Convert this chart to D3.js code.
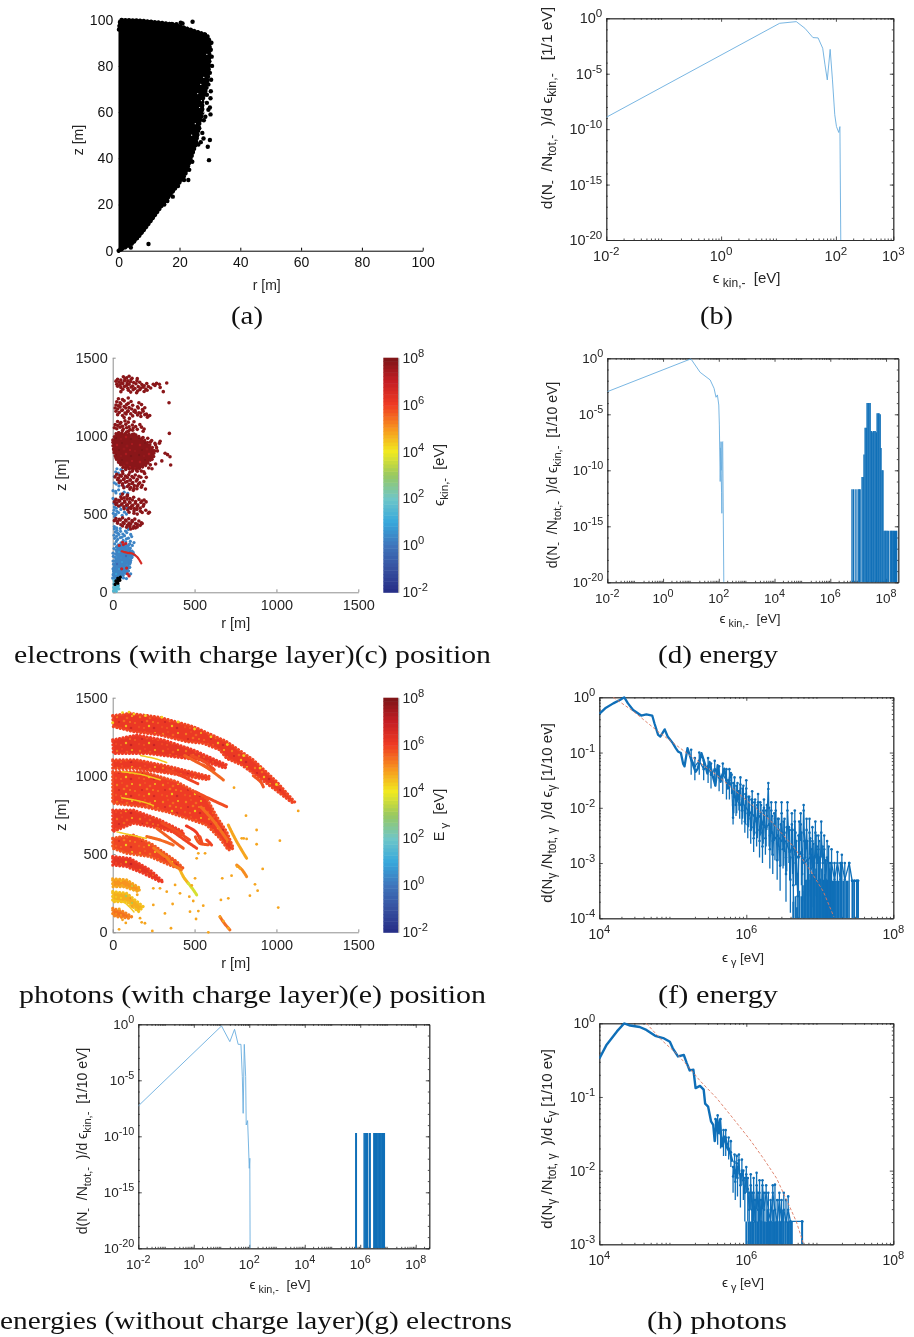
<!DOCTYPE html>
<html>
<head>
<meta charset="utf-8">
<script src="https://cdn.jsdelivr.net/npm/d3@7"></script>
<style>
  html, body { margin: 0; padding: 0; background: #fff; }
  svg { display: block; filter: blur(0.3px); }
  text { font-family: "Liberation Sans", Arial, sans-serif; white-space: pre; }
  .cap { font-family: "Liberation Serif", serif; fill: #111; font-size: 26px; }
</style>
</head>
<body>
<div id="results"></div>
<script>
// --- (a) positions, dense black region outline + points sticking out of it
var aOutline = [[0,0],[4.3,3],[7,6.8],[10.3,12.5],[14.7,20.5],[18,26],[21.8,32.8],[23.5,39],[25.4,46.5],[26.5,55],[27.5,59.5],[27.5,65],[29,71],[29.6,78],[30,90.5],[29,93.4],[24.6,95.2],[19,97.7],[13.6,98.7],[7,99.6],[0.5,99.9],[0,95]];
var aDots = [[24.3,99.1],[20.4,98.7],[21,98.4],[19,98],[17.5,98.2],[9.8,2.9],[4,1.4],[29.7,39.2],[29.3,45],[30,47.9],[27.9,48.6],[26.2,46],[25,45.7],[24.3,44],[27,47],[22.9,30.6],[21.5,30.6],[17.8,23.4],[23.2,35],[22,37],[24.2,38.5],[19.5,28],[15,20],[16,21.5],[6,5.5],[5,4],[30.2,59],[29.5,61],[28.5,58],[28,56.5],[30,62],[26.5,53],[27.5,51],[25.8,50],[29,64],[30.2,66],[29,67.5],[30.3,69],[28,70],[29.5,72],[30.4,74],[30,77],[30.7,80],[29.8,82],[30.6,84],[30.3,87],[30.5,90],[29,92.5],[28,93]];
var aHoles = [[26,68],[27.2,65],[28,60],[26.6,62],[25.2,55],[29,85],[28,75],[24,50],[27,72]];

// --- colour map of the colour bars (exponent of the energy -> colour)
var cmapExp = [-2,-1,0,1,2,3,4,5,6,7,8];
var cmapCol = ["#262d86","#36509f","#3f74bb","#37a8dc","#6fc6c8","#98c860","#f1ea1e","#f7941e","#ef3b24","#c41e24","#7b1416"];
var barTicks = [-2,0,2,4,6,8];

// --- (c) electrons, points are [r, z]
var cRedE = 7.8, cBlueE = 0.3, cCyanE = 1.5;
var cRedBlob = [[0,974],[24,1023],[147,1006],[208,963],[248,921],[244,867],[208,814],[147,782],[65,793],[24,846],[8,889],[0,942]];
var cBlueBlob = [[0,90],[24,303],[96,303],[126,249],[106,196],[96,132],[24,79]];
var cCyanBlob = [[5,8],[8,75],[30,60],[40,25],[20,5]];
var cBlackBlob = [[14,50],[22,82],[45,100],[50,85],[30,55]];
var cRed = [
 [65,1378],[85,1372],[100,1381],[118,1368],[30,1362],[50,1357],[75,1365],[92,1352],[112,1360],[150,1366],[20,1350],[38,1344],[55,1340],[72,1353],[88,1338],[108,1346],[128,1341],[148,1352],[165,1343],[25,1331],[45,1326],[62,1334],[85,1322],[100,1330],[122,1318],[142,1333],[178,1329],[192,1320],[208,1335],[248,1330],[268,1336],[330,1338],[30,1318],[50,1310],[72,1316],[92,1305],[112,1312],[136,1303],[156,1315],[172,1306],[186,1312],[202,1300],[218,1316],[258,1322],[62,1298],[96,1292],[126,1296],[152,1287],[166,1296],[192,1284],[210,1292],[232,1306],[50,1283],[110,1280],[146,1276],[309,1283],[290,1310],[285,1330],
 [35,1238],[60,1232],[95,1242],[25,1218],[45,1212],[70,1224],[95,1208],[112,1220],[160,1212],[344,1212],[20,1198],[35,1192],[50,1204],[70,1188],[85,1200],[100,1182],[122,1196],[152,1186],[176,1200],[15,1178],[30,1172],[45,1184],[60,1166],[80,1178],[95,1160],[116,1172],[136,1164],[156,1178],[182,1168],[196,1180],[20,1158],[40,1150],[55,1162],[75,1146],[90,1156],[110,1142],[130,1156],[160,1148],[186,1158],[206,1140],[30,1136],[60,1130],[82,1140],[122,1128],[152,1134],[172,1124],[196,1136],[216,1126],[70,1118],[102,1112],[212,1120],[226,1130],[140,1150],[170,1145],
 [30,1092],[50,1086],[75,1096],[95,1088],[130,1090],[15,1072],[30,1066],[45,1078],[60,1062],[80,1074],[100,1058],[120,1070],[140,1060],[166,1072],[10,1052],[25,1046],[45,1056],[65,1044],[85,1052],[105,1040],[125,1050],[150,1042],[176,1056],[192,1044],[60,1034],[95,1030],[122,1036],[186,1030],
 [40,1018],[85,1025],[130,1012],[185,990],[346,1016],[214,985],[238,970],[230,960],[258,952],[285,953],[290,965],[262,942],[268,925],[256,905],[273,904],[252,890],[320,889],[250,868],[350,867],[335,880],[240,850],[300,840],[230,815],[354,814],[262,820],[220,795],[240,790],[175,775],[120,775],[80,785],[40,830],[20,860],[10,905],[5,960],
 [60,772],[105,768],[150,774],[190,770],[195,760],[25,755],[45,748],[62,758],[78,744],[98,752],[118,740],[138,750],[160,742],[205,735],[15,738],[35,730],[52,742],[70,726],[90,734],[108,720],[128,732],[150,722],[172,736],[30,720],[48,712],[66,722],[88,708],[106,716],[122,702],[144,712],[165,700],[190,708],[40,702],[60,694],[78,704],[100,690],[118,696],[132,682],[158,692],[180,684],[60,685],[90,676],[110,670],[130,664],[150,680],[175,672],[68,668],[105,660],[126,652],[148,662],[200,660],
 [60,628],[90,622],[50,610],[70,604],[88,614],[105,600],[128,608],[20,594],[38,588],[55,598],[72,584],[88,596],[102,578],[120,590],[140,580],[160,594],[178,584],[192,590],[10,578],[26,572],[42,582],[58,566],[74,576],[90,560],[106,572],[122,556],[138,570],[154,558],[172,574],[190,562],[204,578],[20,562],[36,552],[52,560],[68,546],[84,556],[100,540],[116,550],[132,536],[150,548],[168,538],[186,550],[70,534],[92,526],[112,536],[130,520],[148,530],[170,518],[224,512],[100,512],[130,505],[150,500],[202,525],[218,506],[180,510],
 [20,472],[40,466],[60,476],[78,462],[98,470],[118,458],[135,468],[10,458],[28,452],[46,462],[64,446],[82,456],[100,442],[120,452],[140,440],[160,456],[175,444],[30,442],[50,432],[70,440],[90,428],[110,436],[130,422],[150,434],[168,428],[180,440],[60,424],[85,416],[105,420],[125,410],[150,418],[110,405],[140,412]
];
var cBlue = [[26,790],[50,784],[18,770],[34,762],[62,775],[10,740],[10,700],[22,692],[38,680],[70,675],[2,650],[18,645],[36,655],[70,640],[20,635],[48,628],[92,632],[2,600],[12,590],[8,570],[10,545],[22,538],[44,550],[86,542],[140,532],[8,525],[26,518],[50,530],[72,512],[4,505],[20,498],[36,510],[58,492],[84,500],[12,485],[10,420],[24,412],[10,405],[26,396],[46,408],[78,392],[96,402],[16,385],[30,378],[48,390],[62,372],[86,382],[110,370],[8,365],[24,358],[38,370],[56,352],[72,362],[96,346],[116,356],[12,345],[30,338],[46,350],[64,332],[84,342],[108,326],[22,325],[50,316],[80,322],[104,310],[130,318],[12,310],[40,302],[70,296],[120,300],[2,250],[2,200],[110,205],[2,150],[110,118],[100,110],[66,92],[84,88],[125,255],[130,240],[118,225],[108,190],[104,160],[15,100],[8,130],[5,180],[4,230],[8,280]];
var cRedStreak = [[55,262],[90,252],[120,248],[150,225],[175,185]];
var cRedExtra = [[85,155],[90,118],[55,150],[65,305],[40,300],[80,312],[60,320],[100,105]];

// --- (e) photons. bands are outlines of the dense arcs, e = exponent of energy
var eBands = [
 {e:6.1, pts:[[0,1385],[106,1400],[289,1374],[492,1315],[696,1219],[859,1102],[1001,963],[1113,831],[1093,831],[981,921],[859,1016],[788,1070],[696,1112],[655,1166],[553,1208],[452,1219],[289,1261],[126,1283],[4,1315]]},
 {e:6.2, pts:[[0,1230],[147,1261],[309,1230],[492,1166],[696,1070],[686,1050],[533,1102],[370,1123],[208,1144],[4,1144]]},
 {e:6.1, pts:[[0,1102],[147,1102],[350,1059],[594,995],[584,975],[350,1016],[126,1048],[0,1048]]},
 {e:6.0, pts:[[0,1027],[187,1027],[391,963],[574,857],[635,740],[696,643],[737,537],[706,526],[655,601],[574,686],[452,729],[330,771],[187,803],[0,825]]},
 {e:6.15, pts:[[0,782],[126,782],[289,718],[431,643],[431,622],[289,665],[126,697],[0,643]]},
 {e:5.9, pts:[[0,601],[126,622],[248,558],[391,452],[431,409],[370,420],[228,484],[85,505],[0,537]]},
 {e:6.25, pts:[[0,484],[106,473],[228,399],[309,324],[289,324],[187,377],[85,420],[0,430]]},
 {e:5.0, pts:[[0,341],[85,335],[167,281],[157,260],[65,292],[0,292]]},
 {e:4.7, pts:[[0,260],[85,249],[187,164],[157,132],[85,196],[0,196]]},
 {e:5.4, pts:[[0,153],[65,132],[116,100],[96,90],[24,100],[0,111]]}
];
var eFingers = [
 {e:6.0, pts:[[503,899],[580,860],[696,803]]},
 {e:5.7, pts:[[553,1070],[620,1020],[676,974]]},
 {e:5.8, pts:[[440,1130],[520,1085],[600,1040]]},
 {e:5.9, pts:[[859,1000],[905,960],[920,930]]},
 {e:6.2, pts:[[450,680],[510,640],[540,575]]},
 {e:5.6, pts:[[540,800],[610,720],[700,590]]},
 {e:5.0, pts:[[706,686],[752,590],[818,473]]},
 {e:5.3, pts:[[757,430],[790,400],[818,356]]},
 {e:4.8, pts:[[411,399],[435,350],[462,313]]},
 {e:3.9, pts:[[462,313],[490,275],[513,239]]},
 {e:5.6, pts:[[655,100],[680,60],[716,15]]},
 {e:5.9, pts:[[505,610],[530,570],[585,560]]},
 {e:5.5, pts:[[330,480],[370,430],[420,400]]},
 {e:6.0, pts:[[300,700],[400,640],[470,590]]},
 {e:5.8, pts:[[269,665],[350,600],[431,537]]},
 {e:6.1, pts:[[370,643],[440,590],[513,537]]},
 {e:6.0, pts:[[533,610],[540,590],[545,570]]},
 {e:6.1, pts:[[574,590],[590,575],[604,558]]},
 {e:5.7, pts:[[208,612],[290,590],[370,558]]},
 {e:5.5, pts:[[250,540],[300,500],[340,470]]},
 {e:6.1, pts:[[330,1040],[420,1000],[520,950]]},
 {e:6.0, pts:[[480,1130],[560,1090],[620,1040]]}
];
var eYellowRidges = [
 [[55,1027],[170,1010],[290,975]],
 [[55,860],[180,835],[250,810]],
 [[25,642],[120,620],[205,600]],
 [[170,1130],[260,1110],[330,1085]],
 [[0,205],[70,190],[130,130]]
];
var eSparse = [[1133,776],[1021,586],[879,654],[879,563],[814,746],[741,925],[916,405],[1011,158],[869,307],[885,266],[838,234],[661,207],[706,217],[669,345],[726,362],[777,409],[584,0],[509,85],[411,249],[366,181],[319,121],[248,175],[248,281],[197,58],[167,90],[177,64],[39,19],[242,9],[356,26],[472,132],[523,136],[553,170],[492,200],[468,228],[503,345],[483,300],[513,473],[564,505],[523,505],[381,303],[330,260],[289,281],[655,100],[676,72],[706,26],[818,597],[788,601],[760,420],[800,600],[150,240],[118,165],[60,80],[80,60],[40,150]];
var eYellow = [[60,1405],[100,1408],[130,1395],[200,1385],[300,1375],[400,1345],[500,1300],[600,1250],[700,1200],[800,1130],[900,1050],[1000,945],[0,1340]];

// --- energy spectra, all numbers below are log10 values
var bLogE = [-2,1.02,1.31,1.46,1.60,1.69,1.77,1.81,1.85,1.90,1.94,1.98,2.01,2.05,2.07,2.085];
var bLogN = [-8.93,-0.45,-0.3,-0.9,-1.74,-1.77,-2.7,-4.2,-5.56,-2.8,-5.56,-8.7,-9.77,-10.3,-9.77,-20];

var dLogE = [-2,1.0,1.33,1.69,1.83,1.90,1.95,2.0,2.02,2.05,2.08,2.09,2.06,2.10,2.11,2.12,2.14,2.18];
var dLogN = [-2.98,-0.05,-1.25,-1.93,-2.68,-3.48,-3.27,-4.17,-5.95,-11,-7.44,-10,-8,-12,-13.84,-7.5,-7.44,-20];
var dBarE = [6.78,6.84,6.92,7.0,7.04,7.07,7.14,7.18,7.21,7.25,7.29,7.32,7.36,7.39,7.43,7.47,7.5,7.54,7.57,7.61,7.65,7.68,7.72,7.75,7.79,7.82,7.86,7.89,7.93,7.97,8.0,8.04,8.08,8.15,8.19,8.22,8.26,8.3,8.34,8.38];
var dBarN = [-11.7,-11.7,-11.7,-11.7,-11.7,-11.7,-10.6,-10.6,-8.6,-6.2,-6.2,-4,-4,-4,-4,-6.5,-6.6,-6.5,-6.5,-6.5,-6.6,-4.9,-4.9,-4.9,-5,-8,-10,-10,-15.4,-15.4,-15.4,-15.4,-15.4,-15.4,-15.4,-15.4,-15.4,-15.4,-15.4,-15.4];

var gLogE = [-2,1.0,1.30,1.47,1.60,1.70,1.75,1.78,1.82,1.87,1.89,1.94,1.97,2.0,2.02,2.03];
var gLogN = [-7.29,-0.15,-1.55,-0.45,-1.79,-1.79,-4.67,-7.95,-1.79,-4.67,-8.99,-8.6,-10.6,-12.86,-11.96,-20];
var gBarE = [5.84,5.86,6.14,6.17,6.2,6.23,6.26,6.33,6.36,6.49,6.52,6.55,6.58,6.61,6.64,6.67,6.7,6.72,6.75,6.78,6.81,6.84,6.87];
var gBarTop = -9.7;

// thick low energy part of (f)
var fLogE = [4,4.08,4.19,4.28,4.34,4.39,4.46,4.57,4.64,4.72,4.75,4.80,4.83,4.89,4.93,5.0,5.04,5.07,5.11,5.14,5.16,5.2,5.25,5.31,5.34,5.39,5.44,5.47,5.5,5.54,5.58,5.61,5.65,5.7,5.75,5.79];
var fLogN = [-0.3,-0.2,-0.11,-0.05,0,-0.11,-0.23,-0.33,-0.31,-0.33,-0.47,-0.68,-0.71,-0.58,-0.71,-0.83,-0.92,-0.98,-1.01,-1.2,-1.25,-0.92,-1.13,-1.35,-1.29,-1.01,-1.22,-1.38,-1.17,-1.41,-1.6,-1.23,-1.53,-1.29,-1.65,-1.35];
// noisy part of (f): energy, value, lower end, upper end of the error bar
var fNoise = [
 [5.80,-1.55,-1.75,-1.4],[5.82,-2.18,-2.3,-1.95],[5.84,-1.6,-1.75,-1.45],[5.86,-1.95,-2.15,-1.8],[5.88,-1.7,-1.85,-1.55],[5.90,-1.85,-2.05,-1.7],[5.92,-1.58,-1.75,-1.45],[5.94,-2.05,-2.3,-1.9],
 [5.96,-1.75,-1.95,-1.6],[5.98,-2.25,-2.45,-2.05],[6.00,-1.65,-1.85,-1.5],[6.02,-2.3,-2.55,-2.1],[6.04,-1.95,-2.15,-1.8],[6.06,-2.4,-2.65,-2.2],[6.08,-1.85,-2.05,-1.7],[6.10,-2.55,-2.8,-2.35],
 [6.12,-2.0,-2.2,-1.85],[6.14,-2.45,-2.7,-2.25],[6.16,-1.9,-2.15,-1.75],[6.18,-2.6,-2.9,-2.4],[6.20,-2.1,-2.35,-1.95],[6.22,-2.7,-3.0,-2.45],[6.24,-2.0,-2.25,-1.85],[6.26,-2.55,-2.85,-2.35],
 [6.28,-2.15,-2.4,-1.95],[6.30,-1.66,-1.85,-1.55],[6.32,-2.75,-3.1,-2.5],[6.34,-2.05,-2.3,-1.9],[6.36,-2.85,-3.2,-2.6],[6.38,-2.3,-2.6,-2.1],[6.40,-2.05,-2.3,-1.9],[6.42,-2.95,-3.3,-2.65],
 [6.44,-2.4,-2.7,-2.2],[6.46,-3.05,-3.5,-2.75],[6.48,-2.1,-2.4,-1.9],[6.50,-2.75,-3.1,-2.5],[6.52,-2.45,-2.8,-2.2],[6.54,-3.2,-3.7,-2.9],[6.56,-2.05,-2.3,-1.9],[6.58,-2.6,-3.0,-2.35],
 [6.60,-3.3,-3.9,-2.9],[6.62,-2.3,-2.6,-2.1],[6.64,-3.4,-4,-3.0],[6.66,-2.25,-2.6,-2.05],[6.68,-2.9,-3.4,-2.6],[6.70,-3.6,-4,-3.2],[6.72,-2.5,-2.9,-2.25],[6.74,-2.3,-2.6,-2.1],
 [6.76,-3.2,-4,-2.85],[6.78,-2.05,-2.3,-1.95],[6.80,-2.9,-3.4,-2.6],[6.82,-2.4,-2.75,-2.2],[6.84,-3.5,-4,-3.0],[6.86,-2.45,-2.85,-2.2],[6.88,-3.1,-4,-2.75],[6.90,-2.6,-3.1,-2.35],
 [6.92,-3.3,-4,-2.9],[6.94,-2.45,-2.9,-2.25],[6.96,-3.0,-3.6,-2.7],[6.98,-2.75,-3.3,-2.5],[7.0,-3.3,-4,-2.9],[7.02,-2.45,-2.9,-2.25],[7.04,-3.0,-4,-2.7],[7.06,-2.75,-3.5,-2.5],
 [7.08,-3.3,-4,-2.95],[7.10,-2.9,-4,-2.6],[7.12,-3.0,-4,-2.7],[7.14,-3.3,-4,-3.0],[7.16,-3.0,-4,-2.75],[7.20,-3.3,-4,-3.0],[7.24,-3.0,-4,-2.8],[7.28,-3.3,-4,-3.0],
 [7.30,-3.0,-4,-2.85],[7.34,-3.3,-4,-3.0],[7.40,-3.0,-4,-3.0],[7.44,-3.32,-4,-3.32],[7.47,-3.32,-4,-3.32],[7.50,-3.32,-4,-3.32],[7.52,-3.32,-4,-3.32]
];
// middle of the noise band of (f), same columns
var fNoiseMid = [
 [5.25,-1.1,-1.4,-0.95],[5.3,-1.25,-1.5,-1.1],[5.36,-1.15,-1.4,-1.0],[5.42,-1.3,-1.5,-1.15],[5.48,-1.25,-1.55,-1.1],[5.52,-1.4,-1.65,-1.2],[5.57,-1.3,-1.6,-1.15],[5.63,-1.45,-1.7,-1.25],[5.68,-1.4,-1.75,-1.2],[5.73,-1.5,-1.85,-1.3],[5.77,-1.5,-1.85,-1.3],
 [5.83,-1.8,-2.1,-1.55],[5.87,-1.85,-2.1,-1.6],[5.91,-1.95,-2.2,-1.7],[5.95,-1.9,-2.2,-1.65],[5.99,-2.0,-2.3,-1.75],[6.03,-2.05,-2.35,-1.8],[6.07,-2.1,-2.4,-1.85],[6.11,-2.15,-2.5,-1.9],[6.15,-2.2,-2.55,-1.95],[6.19,-2.15,-2.5,-1.9],[6.23,-2.3,-2.65,-2.05],[6.27,-2.35,-2.7,-2.05],[6.31,-2.3,-2.7,-2.0],[6.35,-2.45,-2.85,-2.15],[6.39,-2.55,-2.95,-2.2],[6.43,-2.5,-2.95,-2.2],[6.47,-2.6,-3.05,-2.3],[6.51,-2.55,-3.05,-2.25],[6.55,-2.65,-3.15,-2.35],[6.59,-2.8,-3.3,-2.4],[6.63,-2.7,-3.2,-2.4],[6.67,-2.85,-3.4,-2.45],[6.71,-2.9,-3.5,-2.5],[6.75,-2.8,-3.4,-2.45],[6.79,-3.0,-3.7,-2.6],[6.83,-2.95,-3.6,-2.6],[6.87,-2.9,-3.6,-2.55],[6.91,-3.0,-3.8,-2.65],[6.95,-2.85,-3.6,-2.5],[6.99,-3.05,-4,-2.6]
];
// counts that drop down to the bottom axis in (f), [energy, top]
var fStems = [[6.64,-3.7],[6.67,-3.6],[6.69,-3.8],[6.72,-3.5],[6.75,-3.6],[6.77,-3.4],[6.79,-3.5],[6.81,-3.3],[6.83,-3.3],[6.85,-3.2],[6.87,-3.3],[6.89,-3.2],[6.91,-3.1],[6.93,-3.2],[6.95,-3.1],[6.97,-3.3],[6.99,-3.2],[7.01,-3.3],[7.03,-3.1],[7.05,-3.3],[7.07,-3.2],[7.09,-3.3],[7.11,-3.3],[7.13,-3.1],[7.15,-3.3],[7.17,-3.32],[7.19,-3.32],[7.22,-3.32],[7.26,-3.32],[7.29,-3.0],[7.32,-3.32],[7.36,-3.32],[7.38,-3.32],[7.45,-3.32],[7.52,-3.32]];
var fFitE = [4.19,4.46,4.8,5.19,5.6,6.0,6.32,6.64,6.87,7.05,7.19];
var fFitN = [0,-0.25,-0.62,-1.01,-1.41,-1.86,-2.22,-2.7,-3.13,-3.52,-3.97];

var hLogE = [4,4.10,4.24,4.34,4.42,4.55,4.64,4.76,4.87,4.96,5.0,5.07,5.15,5.19,5.23,5.28,5.31,5.37,5.42,5.44,5.48,5.52,5.55,5.57,5.6,5.62,5.64,5.67,5.7,5.73,5.78,5.81];
var hLogN = [-0.48,-0.29,-0.11,0,-0.03,-0.05,-0.09,-0.17,-0.2,-0.25,-0.34,-0.45,-0.43,-0.54,-0.64,-0.63,-0.88,-0.85,-0.9,-1.09,-1.13,-1.33,-1.38,-1.6,-1.31,-1.49,-1.31,-1.67,-1.54,-1.67,-1.76,-1.88];
var hNoise = [
 [5.82,-2.08,-2.3,-1.95],[5.84,-1.88,-2.05,-1.78],[5.85,-2.15,-2.4,-2.0],[5.87,-1.9,-2.1,-1.8],[5.88,-2.1,-2.35,-1.95],[5.90,-1.86,-2.05,-1.78],[5.92,-2.2,-2.5,-2.05],[5.94,-2.0,-2.2,-1.85],
 [5.96,-2.13,-2.4,-2.0],[5.98,-2.3,-2.69,-2.1],[6.0,-2.05,-2.3,-1.95],[6.02,-2.25,-2.69,-2.1],[6.04,-2.53,-3,-2.3],[6.06,-2.2,-2.53,-2.05],[6.08,-2.53,-3,-2.3],[6.1,-2.3,-2.69,-2.1],[6.12,-2.69,-3,-2.4],
 [6.14,-2.2,-2.53,-2.03],[6.16,-2.53,-3,-2.3],[6.18,-2.3,-2.69,-2.13],[6.2,-2.69,-3,-2.4],[6.22,-2.2,-2.53,-2.13],[6.24,-2.53,-3,-2.3],[6.27,-2.3,-2.69,-2.2],[6.3,-2.53,-3,-2.3],[6.33,-2.69,-3,-2.4],
 [6.36,-2.3,-2.69,-2.2],[6.39,-2.53,-3,-2.19],[6.42,-2.69,-3,-2.4],[6.45,-2.4,-3,-2.3],[6.48,-2.69,-3,-2.4],[6.51,-2.53,-3,-2.3],[6.54,-2.69,-3,-2.4],[6.57,-2.53,-3,-2.35],[6.6,-2.69,-3,-2.69],[6.76,-2.69,-3,-2.69]
];
var hNoiseMid = [[5.58,-1.45,-1.6,-1.3],[5.61,-1.4,-1.65,-1.25],[5.65,-1.5,-1.7,-1.3],[5.69,-1.6,-1.8,-1.45],[5.72,-1.55,-1.8,-1.45],[5.76,-1.7,-1.85,-1.55],[5.79,-1.75,-1.95,-1.6]];
var hStems = [[6.0,-2.69],[6.03,-2.69],[6.06,-2.69],[6.08,-2.53],[6.1,-2.69],[6.13,-2.53],[6.15,-2.69],[6.17,-2.53],[6.19,-2.69],[6.21,-2.69],[6.23,-2.53],[6.25,-2.69],[6.27,-2.69],[6.29,-2.53],[6.31,-2.69],[6.33,-2.69],[6.35,-2.69],[6.37,-2.53],[6.39,-2.69],[6.41,-2.69],[6.43,-2.69],[6.46,-2.69],[6.48,-2.69],[6.5,-2.53],[6.53,-2.69],[6.56,-2.69],[6.58,-2.69],[6.6,-2.69],[6.62,-2.69],[6.76,-2.69]];
var hFitE = [4.64,4.85,5.05,5.23,5.37,5.6,5.82,6.05,6.23,6.41,6.59,6.68,6.78];
var hFitN = [0,-0.23,-0.41,-0.61,-0.78,-1.02,-1.29,-1.58,-1.83,-2.1,-2.49,-2.69,-3];

// --- labels
var linTicksA = [0,20,40,60,80,100];
var linTicksC = [0,500,1000,1500];
var labelE = [["d(N"],["-","sub"],["  /N"],["tot,-","sub"],["  )/d "],["ϵ"],["kin,-","sub"]];
var labelP = [["d(N"],["γ","sub"],[" /N"],["tot, γ","sub"],["  )/d "],["ϵ"],["γ","sub"]];
var xLabelE = [["ϵ"],[" kin,-","sub"],["  [eV]"]];
var xLabelP = [["ϵ"],[" γ","sub"],[" [eV]"]];
var captions = [
 ["(a)",231,324,32],["(b)",700,324,33],
 ["electrons (with charge layer)(c) position",14,663,477],["(d) energy",658,663,120],
 ["photons (with charge layer)(e) position",19,1003,467],["(f) energy",658,1003,120],
 ["energies (without charge layer)(g) electrons",0,1329,512],["(h) photons",647,1329,140]
];

var BLUE = "#0f6fb8", LIGHT = "#6aaedf", FIT = "#dd7a63", INK = "#262626";
var svg = d3.select("#results").append("svg").attr("width",914).attr("height",1337);
var defs = svg.append("defs");

function rich(sel, parts) {
  // writes text pieces with sub / superscripts as tspans
  var off = 0;
  parts.forEach(function(p) {
    var want = p[1]=="sub" ? 4 : p[1]=="sup" ? -6 : 0;
    var t = sel.append("tspan").text(p[0]).attr("dy", want-off);
    if (p[1]) t.attr("font-size", "0.8em");
    off = want;
  });
}
function expLabel(sel, v) {
  sel.text(null);
  rich(sel, [["10"],[String(v),"sup"]]);
}
var cid = 0;
function logPanel(box, xd, yd, xMajor, yMajor, fs) {
  var g = svg.append("g");
  var x = d3.scaleLog().domain(xd).range([box[0],box[2]]);
  var y = d3.scaleLog().domain(yd).range([box[3],box[1]]);
  var h = box[3]-box[1], w = box[2]-box[0];
  var xLo = Math.floor(Math.log10(xd[0])), xHi = Math.ceil(Math.log10(xd[1]));
  var xMinor = [];
  d3.range(xLo,xHi).forEach(function(e){ [2,3,4,5,6,7,8,9].forEach(function(m){ if (m*Math.pow(10,e)<xd[1]) xMinor.push(m*Math.pow(10,e)); }); });
  var yMinor = d3.range(Math.log10(yd[0]),Math.log10(yd[1])+1).map(function(e){return Math.pow(10,e);});
  if (yd[1]/yd[0] < 1e6) { yMinor = []; d3.range(Math.log10(yd[0]),Math.log10(yd[1])).forEach(function(e){ [2,3,4,5,6,7,8,9].forEach(function(m){ yMinor.push(m*Math.pow(10,e)); }); }); }
  var xm = xMajor.map(function(e){return Math.pow(10,e);}), ym = yMajor.map(function(e){return Math.pow(10,e);});
  function tick(axis, vals, size) { return axis.tickValues(vals).tickSize(size).tickSizeOuter(0).tickFormat(""); }
  var sides = [
    [d3.axisBottom(x), box[3], 0, xMinor, xm], [d3.axisTop(x), box[1], 0, xMinor, xm],
    [d3.axisLeft(y), box[0], 1, yMinor, ym], [d3.axisRight(y), box[2], 1, yMinor, ym]
  ];
  sides.forEach(function(d) {
    var tr = d[2] ? "translate("+d[1]+",0)" : "translate(0,"+d[1]+")";
    var a = g.append("g").attr("transform",tr).call(tick(d[0],d[3],-1.5));
    var b = g.append("g").attr("transform",tr).call(tick(d[0],d[4],-3.5));
    [a,b].forEach(function(s){ s.selectAll("path,line").attr("stroke",INK).attr("stroke-width",0.8); s.selectAll("text").remove(); });
  });
  // tick labels
  g.selectAll(".xl").data(xMajor).enter().append("text").attr("class","xl")
    .attr("x",function(e){return x(Math.pow(10,e));}).attr("y",box[3]+20.5)
    .attr("text-anchor","middle").attr("font-size",fs).attr("fill",INK)
    .each(function(e){ expLabel(d3.select(this),e); });
  g.selectAll(".yl").data(yMajor).enter().append("text").attr("class","yl")
    .attr("x",box[0]-4).attr("y",function(e){return y(Math.pow(10,e))+5;})
    .attr("text-anchor","end").attr("font-size",fs).attr("fill",INK)
    .each(function(e){ expLabel(d3.select(this),e); });
  var id = "clip"+(cid++);
  svg.append("clipPath").attr("id",id).append("rect").attr("x",box[0]).attr("y",box[1]-1).attr("width",w).attr("height",h+1);
  var plot = svg.append("g").attr("clip-path","url(#"+id+")");
  return {x:x, y:y, plot:plot, box:box};
}
function p10(v){ return Math.pow(10,v); }
function spectrum(p, es, ns, col, wid, dash) {
  var pts = es.map(function(e,i){return [p.x(p10(e)), p.y(p10(ns[i]))];});
  var path = p.plot.append("path").attr("d",d3.line()(pts)).attr("fill","none").attr("stroke",col).attr("stroke-width",wid).attr("stroke-linejoin","round");
  if (dash) path.attr("stroke-dasharray",dash);
}
function stems(p, es, tops, col, wid) {
  p.plot.selectAll(null).data(es).enter().append("line")
    .attr("x1",function(e){return p.x(p10(e));}).attr("x2",function(e){return p.x(p10(e));})
    .attr("y1",function(e,i){return p.y(p10(tops[i]));}).attr("y2",p.box[3])
    .attr("stroke",col).attr("stroke-width",wid);
}
function noise(p, rows) {
  var pts = rows.map(function(d){return [p.x(p10(d[0])), p.y(p10(d[1]))];});
  p.plot.append("path").attr("d",d3.line()(pts)).attr("fill","none").attr("stroke",BLUE).attr("stroke-width",1.3);
  p.plot.selectAll(null).data(rows).enter().append("line")
    .attr("x1",function(d){return p.x(p10(d[0]));}).attr("x2",function(d){return p.x(p10(d[0]));})
    .attr("y1",function(d){return p.y(p10(d[2]));}).attr("y2",function(d){return p.y(p10(d[3]));})
    .attr("stroke",BLUE).attr("stroke-width",1.3);
  p.plot.selectAll(null).data(rows).enter().append("circle")
    .attr("cx",function(d){return p.x(p10(d[0]));}).attr("cy",function(d){return p.y(p10(d[3]));}).attr("r",1.3).attr("fill",BLUE);
  p.plot.selectAll(null).data(rows).enter().append("circle")
    .attr("cx",function(d){return p.x(p10(d[0]));}).attr("cy",function(d){return p.y(p10(d[1]));}).attr("r",1.3).attr("fill",BLUE);
}
function labelY(parts, x, y, fs) {
  var t = svg.append("text").attr("transform","translate("+x+","+y+") rotate(-90)").attr("text-anchor","middle").attr("font-size",fs).attr("fill",INK);
  rich(t, parts);
}
function labelX(parts, x, y, fs) {
  var t = svg.append("text").attr("x",x).attr("y",y).attr("text-anchor","middle").attr("font-size",fs).attr("fill",INK);
  rich(t, parts);
}
var plainInt = d3.format("d");

// (a)
var ax = d3.scaleLinear().domain([0,100]).range([118.7,422.7]);
var ay = d3.scaleLinear().domain([0,100]).range([250.7,19.7]);
svg.append("g").attr("transform","translate(0,250.7)").call(d3.axisBottom(ax).tickValues(linTicksA).tickFormat(plainInt).tickSize(-3).tickSizeOuter(0).tickPadding(6))
  .call(function(g){ g.selectAll("text").attr("font-size",14).attr("fill","#111").attr("y",16.5).attr("dy",0); g.selectAll("path,line").attr("stroke","#000"); });
svg.append("g").attr("transform","translate(118.7,0)").call(d3.axisLeft(ay).tickValues(linTicksA).tickFormat(plainInt).tickSize(-3).tickSizeOuter(0).tickPadding(6))
  .call(function(g){ g.selectAll("text").attr("font-size",14).attr("fill","#111").attr("x",-5.5); g.selectAll("path,line").attr("stroke","#000"); });
var aPath = d3.line().x(function(d){return ax(d[0]);}).y(function(d){return ay(d[1]);})(aOutline);
svg.append("path").attr("d",aPath).attr("fill","#000");
svg.append("path").attr("d",aPath).attr("fill","none").attr("stroke","#000").attr("stroke-width",4.4).attr("stroke-linecap","round").attr("stroke-dasharray","0.1 3.6");
svg.selectAll(null).data(aDots).enter().append("circle").attr("cx",function(d){return ax(d[0]);}).attr("cy",function(d){return ay(d[1]);}).attr("r",2.2).attr("fill","#000");
svg.selectAll(null).data(aHoles).enter().append("circle").attr("cx",function(d){return ax(d[0]);}).attr("cy",function(d){return ay(d[1]);}).attr("r",0.6).attr("fill","#fff");
labelX([["r [m]"]],266.7,290,14);
labelY([["z [m]"]],83,140,14);

// scatter panels share this frame
var cmap = d3.scaleLinear().domain(cmapExp).range(cmapCol);
function scatterFrame(top, bottom, barLabel) {
  var x = d3.scaleLinear().domain([0,1500]).range([112.7,358.3]);
  var y = d3.scaleLinear().domain([0,1500]).range([bottom,top]);
  var style = function(g){ g.selectAll("text").attr("font-size",14.5).attr("fill",INK); g.selectAll("path,line").attr("stroke","#8f8f8f").attr("stroke-width",1); };
  svg.append("g").attr("transform","translate(0,"+bottom+")").call(d3.axisBottom(x).tickValues(linTicksC).tickFormat(plainInt).tickSize(-3).tickSizeOuter(0))
    .call(style).call(function(g){ g.selectAll("text").attr("y",7).attr("dy",0.71+"em"); });
  svg.append("g").attr("transform","translate(112.7,0)").call(d3.axisLeft(y).tickValues(linTicksC).tickFormat(plainInt).tickSize(-3).tickSizeOuter(0))
    .call(style).call(function(g){ g.selectAll("text").attr("x",-5); });
  var barY = d3.scaleLinear().domain([-2,8]).range([bottom,top]);
  svg.selectAll(null).data(d3.range(-2,8,10/64)).enter().append("rect")
    .attr("x",383.3).attr("width",15).attr("y",function(e){return barY(e+10/64);}).attr("height",(bottom-top)/64+0.5)
    .attr("fill",function(e){return cmap(e+5/64);});
  svg.append("g").attr("transform","translate(398.3,0)").call(d3.axisRight(barY).tickValues(barTicks).tickSize(0).tickFormat(""))
    .call(function(g){ g.selectAll("path").attr("stroke","#8f8f8f"); g.selectAll("text").remove(); });
  svg.selectAll(null).data(barTicks).enter().append("text").attr("x",402.5).attr("y",function(e){return barY(e)+5;})
    .attr("font-size",14).attr("fill",INK).each(function(e){ expLabel(d3.select(this),e); });
  labelX([["r [m]"]],235.7,628+(top-357.7),14.5);
  labelY([["z [m]"]],66,(top+bottom)/2,14.5);
  labelY(barLabel,444,(top+bottom)/2,14.5);
  return {x:x, y:y};
}
// mottled fill for the dense regions, a tile of darker and lighter specks
var specks = [[2,3,1.2],[7,1,1.0],[12,4,1.3],[17,2,1.0],[4,8,1.1],[9,7,1.3],[15,8,1.0],[1,13,1.2],[6,14,1.0],[11,12,1.2],[16,14,1.3],[20,9,1.1]];
var tiles = {};
function mottled(key, base, cols) {
  if (tiles[key]) return tiles[key];
  var id = "tile"+key.replace(".","_");
  var pt = defs.append("pattern").attr("id",id).attr("patternUnits","userSpaceOnUse").attr("width",23).attr("height",17);
  pt.append("rect").attr("width",23).attr("height",17).attr("fill",base);
  pt.selectAll("circle").data(specks).enter().append("circle")
    .attr("cx",function(s){return s[0];}).attr("cy",function(s){return s[1];}).attr("r",function(s){return s[2];})
    .attr("fill",function(s,i){return cols[i%cols.length];});
  tiles[key] = "url(#"+id+")";
  return tiles[key];
}
function blob(f, pts, fill, edge, sw) {
  var d = d3.line().x(function(p){return f.x(p[0]);}).y(function(p){return f.y(p[1]);})(pts)+"Z";
  svg.append("path").attr("d",d).attr("fill",fill);
  svg.append("path").attr("d",d).attr("fill","none").attr("stroke",edge).attr("stroke-width",sw||3.2)
    .attr("stroke-linecap","round").attr("stroke-dasharray","0.1 3.4");
}
function ridge(f, pts, col, sw) {
  svg.append("path").attr("d",d3.line().curve(d3.curveCatmullRom).x(function(d){return f.x(d[0]);}).y(function(d){return f.y(d[1]);})(pts))
    .attr("fill","none").attr("stroke",col).attr("stroke-width",sw).attr("stroke-linecap","round").attr("stroke-dasharray","2.4 0.6");
}
function dots(f, pts, col, rad) {
  svg.selectAll(null).data(pts).enter().append("circle").attr("cx",function(d){return f.x(d[0]);}).attr("cy",function(d){return f.y(d[1]);}).attr("r",rad).attr("fill",col);
}

// (c)
var fc = scatterFrame(357.7,592.3,[["ϵ"],["kin,-","sub"],["  [eV]"]]);
blob(fc,cBlueBlob,mottled("b",cmap(cBlueE),[cmap(-0.3),cmap(0.8),cmap(0.4)]),cmap(cBlueE));
dots(fc,cBlue,cmap(cBlueE),1.6);
blob(fc,cCyanBlob,cmap(cCyanE),cmap(cCyanE));
blob(fc,cBlackBlob,"#000","#000");
blob(fc,cRedBlob,mottled("r",cmap(cRedE),[cmap(7.3),cmap(8),cmap(7.6)]),cmap(cRedE));
dots(fc,cRed,cmap(cRedE),1.8);
ridge(fc,cRedStreak,cmap(6.6),2.2);
dots(fc,cRedExtra,cmap(6.9),1.6);

// (e)
var fe = scatterFrame(697.7,932.3,[["E"],[" γ","sub"],["  [eV]"]]);
eBands.forEach(function(b){
  var cols = [cmap(b.e-0.8),cmap(b.e-0.3),cmap(b.e-0.5),cmap(b.e-1.6),cmap(b.e+0.7),cmap(b.e-0.6)];
  blob(fe,b.pts,mottled("e"+b.e,cmap(b.e),cols),cmap(b.e-0.2));
});
eFingers.forEach(function(b){ ridge(fe,b.pts,cmap(b.e-0.2),3); });
eYellowRidges.forEach(function(b){ ridge(fe,b,cmap(4.4),1.5); });
dots(fe,eYellow,cmap(4.3),1.4);
dots(fe,eSparse,cmap(4.8),1.4);

// (b)
var pb = logPanel([606.3,18.3,893.3,240],[1e-2,1e3],[1e-20,1],[-2,0,2,3],[-20,-15,-10,-5,0],14.5);
spectrum(pb,bLogE,bLogN,LIGHT,0.9);
labelY(labelE.concat([["   [1/1 eV]"]]),552,108,15.5);
labelX(xLabelE,746.7,283,15);

// (d)
var pd = logPanel([607.3,358.3,898.3,582.3],[1e-2,p10(8.44)],[1e-20,1],[-2,0,2,4,6,8],[-20,-15,-10,-5,0],13.5);
spectrum(pd,dLogE,dLogN,LIGHT,0.9);
stems(pd,dBarE,dBarN,BLUE,1.4);
labelY(labelE.concat([["  [1/10 eV]"]]),557,475,14);
labelX(xLabelE,750,623,13.5);

// (f)
var pf = logPanel([599.3,697.3,893.3,918.3],[1e4,1e8],[1e-4,1],[4,6,8],[-4,-3,-2,-1,0],14);
stems(pf,fStems.map(function(d){return d[0];}),fStems.map(function(d){return d[1];}),BLUE,1.9);
noise(pf,fNoiseMid);
noise(pf,fNoise);
spectrum(pf,fLogE,fLogN,BLUE,2.3);
spectrum(pf,fFitE,fFitN,FIT,0.9,"3,2");
labelY(labelP.concat([[" [1/10 ev]"]]),552,813,15);
labelX(xLabelP,743,962,13.5);

// (g)
var pg = logPanel([138.3,1024.3,429.3,1248.3],[1e-2,p10(8.49)],[1e-20,1],[-2,0,2,4,6,8],[-20,-15,-10,-5,0],13.5);
spectrum(pg,gLogE,gLogN,LIGHT,0.9);
stems(pg,gBarE,gBarE.map(function(){return gBarTop;}),BLUE,1.4);
labelY(labelE.concat([["  [1/10 eV]"]]),87,1141,14);
labelX(xLabelE,280,1289,13.5);

// (h)
var ph = logPanel([599.3,1023.3,893.3,1244.3],[1e4,1e8],[1e-3,1],[4,6,8],[-3,-2,-1,0],14);
stems(ph,hStems.map(function(d){return d[0];}),hStems.map(function(d){return d[1];}),BLUE,1.9);
noise(ph,hNoiseMid);
noise(ph,hNoise);
spectrum(ph,hLogE,hLogN,BLUE,2.4);
spectrum(ph,hFitE,hFitN,FIT,0.9,"3,2");
labelY(labelP.concat([[" [1/10 ev]"]]),552,1139,15);
labelX(xLabelP,743,1287,13.5);

// captions
svg.selectAll(".cap").data(captions).enter().append("text").attr("class","cap")
  .attr("x",function(d){return d[1];}).attr("y",function(d){return d[2];})
  .attr("textLength",function(d){return d[3];}).attr("lengthAdjust","spacingAndGlyphs")
  .text(function(d){return d[0];});
</script>
</body>
</html>
